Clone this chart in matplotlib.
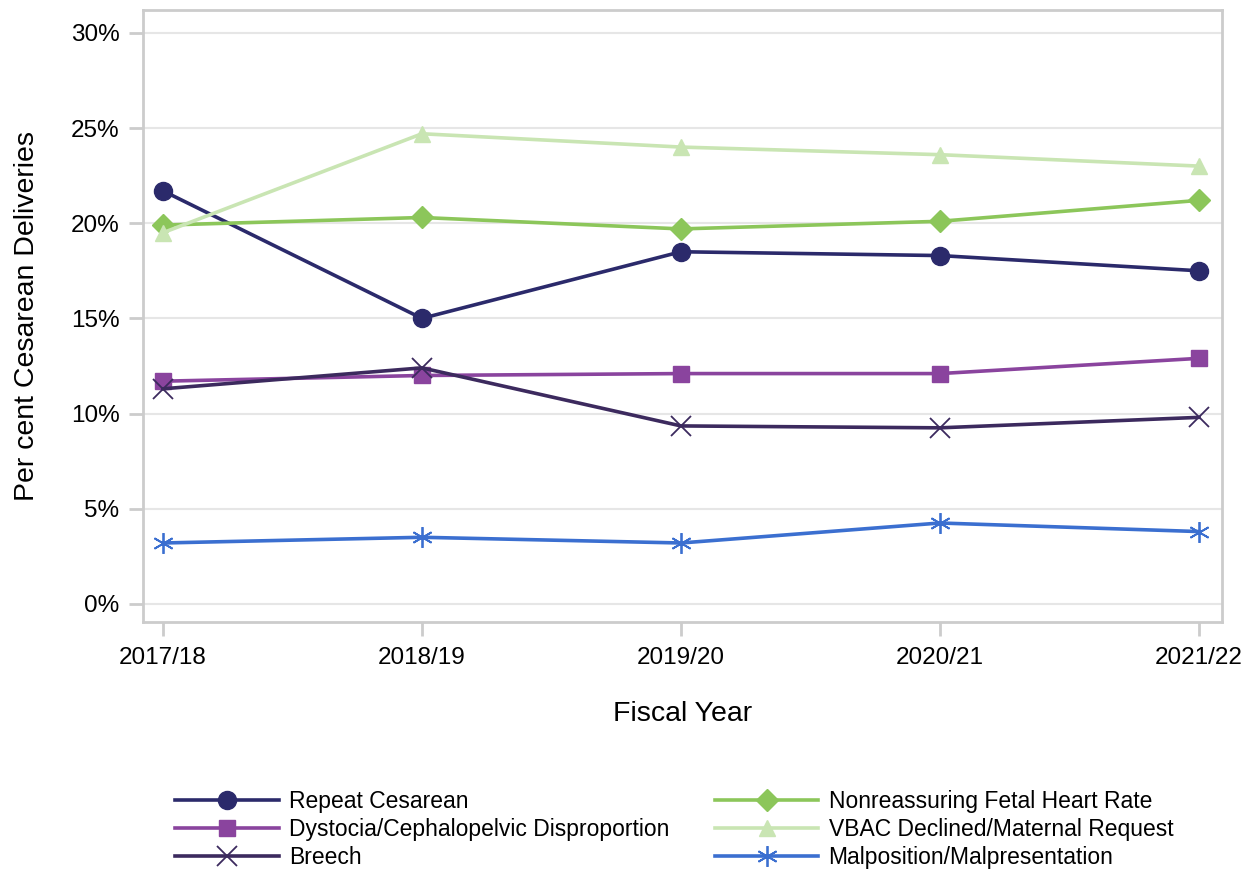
"""Cesarean delivery indications by fiscal year."""

import matplotlib.pyplot as plt
from matplotlib.ticker import FuncFormatter

plt.rcParams["font.family"] = ["Liberation Sans", "DejaVu Sans"]

years = ["2017/18", "2018/19", "2019/20", "2020/21", "2021/22"]

repeat_cesarean = [21.7, 15.0, 18.5, 18.3, 17.5]
dystocia = [11.7, 12.0, 12.1, 12.1, 12.9]
breech = [11.3, 12.4, 9.35, 9.25, 9.8]
nonreassuring = [19.9, 20.3, 19.7, 20.1, 21.2]
vbac_declined = [19.5, 24.7, 24.0, 23.6, 23.0]
malposition = [3.2, 3.5, 3.2, 4.25, 3.8]

series = [
    ("Repeat Cesarean", repeat_cesarean, "#2b2a6b", "o", 13),
    ("Dystocia/Cephalopelvic Disproportion", dystocia, "#8a449e", "s", 11),
    ("Breech", breech, "#3c2a5e", "x", 15),
    ("Nonreassuring Fetal Heart Rate", nonreassuring, "#8cc65a", "D", 11),
    ("VBAC Declined/Maternal Request", vbac_declined, "#c9e5b3", "^", 12),
    ("Malposition/Malpresentation", malposition, "#3b6fd0", (6, 2, 0), 15),
]

fig = plt.figure(figsize=(12.51, 8.71), dpi=100)
ax = fig.add_axes([0.1143, 0.2859, 0.8625, 0.7026])

x = range(len(years))
for label, values, color, marker, size in series:
    ax.plot(x, values, color=color, lw=2.6, marker=marker, markersize=size,
            markeredgewidth=1.3 if marker in ("x", (6, 2, 0)) else 1,
            markeredgecolor=color, label=label)

ax.set_xlim(-0.077, 4.089)
ax.set_ylim(-0.95, 31.2)
ax.set_yticks([0, 5, 10, 15, 20, 25, 30])
ax.yaxis.set_major_formatter(FuncFormatter(lambda v, _: f"{v:.0f}%"))
ax.set_xticks(list(x))
ax.set_xticklabels(years)
ax.grid(axis="y", color="#e6e6e6", lw=1.5)
ax.set_axisbelow(True)
for spine in ax.spines.values():
    spine.set_color("#cccccc")
    spine.set_linewidth(2)
ax.tick_params(axis="x", colors="#cccccc", width=2, length=10, labelsize=17.5,
               labelcolor="black", pad=8)
ax.tick_params(axis="y", colors="#cccccc", width=2, length=10, labelsize=17.5,
               labelcolor="black", pad=7)

ax.set_xlabel("Fiscal Year", fontsize=20.5, labelpad=23)
ax.set_ylabel("Per cent Cesarean Deliveries", fontsize=20.5)
ax.yaxis.set_label_coords(-0.095, 0.5)

fig.legend(loc="lower center", bbox_to_anchor=(0.539, -0.021), ncol=2,
           frameon=False, fontsize=16.5, handlelength=4.5, columnspacing=2.0,
           labelspacing=0.2, handletextpad=0.45)

plt.savefig("out.png", dpi=100)
plt.close()
